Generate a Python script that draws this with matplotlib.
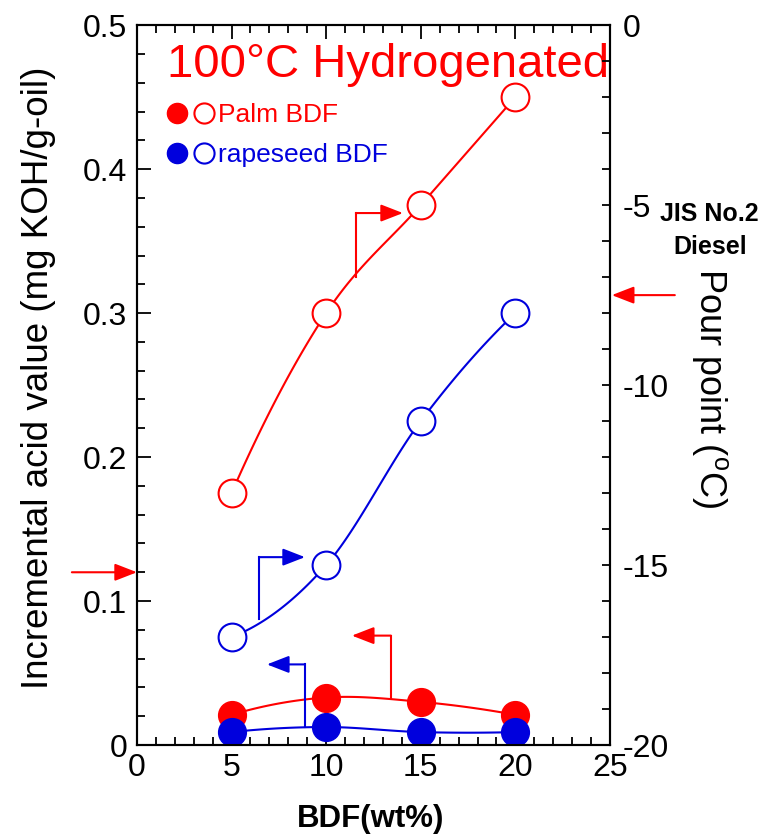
import numpy as np
import matplotlib
matplotlib.use('Agg')
import matplotlib.pyplot as plt
from matplotlib.lines import Line2D
from matplotlib.legend_handler import HandlerTuple

plt.rcParams['font.family'] = ['Liberation Sans', 'DejaVu Sans']
plt.rcParams['mathtext.fontset'] = 'custom'
plt.rcParams['mathtext.rm'] = 'Liberation Sans'
plt.rcParams['axes.unicode_minus'] = False

# data
bdf = [5, 10, 15, 20]
palm_acid = [0.021, 0.033, 0.030, 0.021]
rape_acid = [0.009, 0.0125, 0.009, 0.009]
palm_pour = [-13, -8, -5, -2]
rape_pour = [-17, -15, -11, -8]
jis_acid = 0.12
jis_pour = -7.5

red = '#ff0000'
blue = '#0000dd'


def smooth(x, y, n=40):
    # cubic hermite through the points (catmull-rom style tangents)
    x = np.asarray(x, float)
    y = np.asarray(y, float)
    d = np.diff(y) / np.diff(x)
    m = np.gradient(y, x)
    m[0] = 2 * d[0] - m[1]
    m[-1] = 2 * d[-1] - m[-2]
    xs, ys = [], []
    for i in range(len(x) - 1):
        h = x[i + 1] - x[i]
        t = np.linspace(0, 1, n)
        h00 = 2 * t**3 - 3 * t**2 + 1
        h10 = t**3 - 2 * t**2 + t
        h01 = -2 * t**3 + 3 * t**2
        h11 = t**3 - t**2
        xs.append(x[i] + t * h)
        ys.append(h00 * y[i] + h10 * h * m[i] + h01 * y[i + 1] + h11 * h * m[i + 1])
    return np.concatenate(xs), np.concatenate(ys)


fig = plt.figure(figsize=(7.76, 8.39), dpi=100)
ax = fig.add_axes([0.1765, 0.112, 0.6095, 0.858])
ax2 = ax.twinx()

# acid value (filled, left axis)
for yv, col in [(palm_acid, red), (rape_acid, blue)]:
    xs, ys = smooth(bdf, yv)
    ax.plot(xs, ys, '-', color=col, lw=1.5, zorder=2)
    ax.plot(bdf, yv, 'o', color=col, ms=20, mec=col, zorder=3)

# pour point (open, right axis)
for yv, col in [(palm_pour, red), (rape_pour, blue)]:
    xs, ys = smooth(bdf, yv)
    ax2.plot(xs, ys, '-', color=col, lw=1.5, zorder=2)
    ax2.plot(bdf, yv, 'o', mfc='white', mec=col, mew=1.5, ms=20, zorder=3)

ax.set_xlim(0, 25)
ax.set_ylim(0, 0.5)
ax2.set_ylim(-20, 0)
ax.set_xticks(np.arange(0, 26, 5))
ax.set_xticks(np.arange(0, 26, 1), minor=True)
ax.set_yticks(np.arange(0, 0.51, 0.1))
ax.set_yticks(np.arange(0, 0.51, 0.02), minor=True)
ax.set_yticklabels(['0', '0.1', '0.2', '0.3', '0.4', '0.5'])
ax2.set_yticks(np.arange(-20, 1, 5))
ax2.set_yticks(np.arange(-20, 1, 1), minor=True)

ax.tick_params(axis='both', which='both', direction='in', width=1.3,
               labelsize=23, top=True, right=False)
ax.tick_params(which='major', length=10)
ax.tick_params(which='minor', length=6)
ax.tick_params(axis='y', pad=7)
ax.tick_params(axis='x', pad=6)
ax2.tick_params(axis='y', which='both', direction='in', width=1.3,
                labelsize=23, length=6, pad=9)
for a in (ax, ax2):
    for s in a.spines.values():
        s.set_linewidth(1.5)

ax.set_xlabel('BDF(wt%)', fontsize=22.5, fontweight='bold', va='center')
ax.xaxis.set_label_coords(0.493, -0.103)
ax.set_ylabel('Incremental acid value (mg KOH/g-oil)', fontsize=26.5,
              va='center')
ax.yaxis.set_label_coords(-0.209, 0.51)
ax2.set_ylabel(r'Pour point ($^{\rm o}$C)', fontsize=26, rotation=270,
               va='center')
ax2.yaxis.set_label_coords(1.211, 0.496)

ax.text(0.063, 0.928, '100°C Hydrogenated', transform=ax.transAxes,
        color=red, fontsize=34, ha='left', va='baseline')

# legend: filled + open circle per oil
h_palm = (Line2D([], [], ls='none', marker='o', color=red, ms=14.5),
          Line2D([], [], ls='none', marker='o', mfc='white', mec=red, mew=1.5, ms=14.5))
h_rape = (Line2D([], [], ls='none', marker='o', color=blue, ms=14.5),
          Line2D([], [], ls='none', marker='o', mfc='white', mec=blue, mew=1.5, ms=14.5))
leg = ax.legend([h_palm, h_rape], ['Palm BDF', 'rapeseed BDF'],
                handler_map={tuple: HandlerTuple(ndivide=None, pad=0)},
                loc='center left', bbox_to_anchor=(0.056, 0.847),
                frameon=False, fontsize=19, handlelength=2.05,
                handletextpad=0, labelspacing=0.6, borderpad=0,
                borderaxespad=0)
for t, c in zip(leg.get_texts(), [red, blue]):
    t.set_color(c)

# bracket arrows pointing to each curve's axis
arr = dict(arrowstyle='-|>,head_length=0.9,head_width=0.35', lw=1.5,
           shrinkA=0, shrinkB=0, mutation_scale=15)
ax2.plot([11.57, 11.57], [-7.0, -5.22], color=red, lw=1.5)
ax2.annotate('', xy=(14.06, -5.22), xytext=(11.57, -5.22),
             arrowprops=dict(arr, color=red))
ax2.plot([6.45, 6.45], [-16.5, -14.78], color=blue, lw=1.5)
ax2.annotate('', xy=(8.88, -14.78), xytext=(6.45, -14.78),
             arrowprops=dict(arr, color=blue))
ax.plot([8.88, 8.88], [0.0125, 0.056], color=blue, lw=1.5)
ax.annotate('', xy=(6.87, 0.056), xytext=(8.88, 0.056),
            arrowprops=dict(arr, color=blue))
ax.plot([13.42, 13.42], [0.033, 0.076], color=red, lw=1.5)
ax.annotate('', xy=(11.36, 0.076), xytext=(13.42, 0.076),
            arrowprops=dict(arr, color=red))

# JIS No.2 diesel limits
ax.annotate('', xy=(0, jis_acid), xytext=(-3.44, jis_acid),
            arrowprops=dict(arr, color=red), annotation_clip=False)
ax2.annotate('', xy=(25.1, jis_pour), xytext=(28.43, jis_pour),
             arrowprops=dict(arr, color=red), annotation_clip=False)
ax2.text(1.211, 0.737, 'JIS No.2', transform=ax.transAxes, fontsize=18,
         fontweight='bold', ha='center', va='center')
ax2.text(1.211, 0.6925, 'Diesel', transform=ax.transAxes, fontsize=18,
         fontweight='bold', ha='center', va='center')

fig.savefig('out.png', dpi=100)
